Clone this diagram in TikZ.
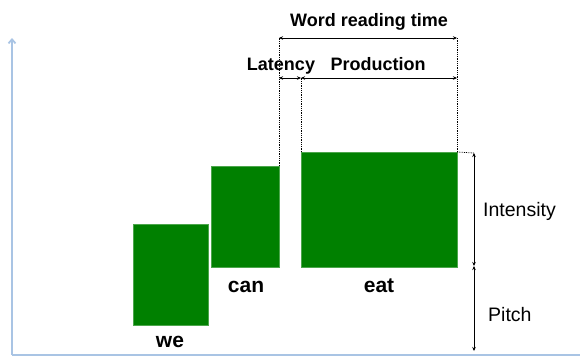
\documentclass[tikz,border=0pt]{standalone}
\usepackage{fontspec}
\setmainfont{Liberation Sans}
\usetikzlibrary{arrows.meta}
\definecolor{bargreen}{HTML}{008000}
\definecolor{axisblue}{HTML}{A9C4E4}
\begin{document}
\begin{tikzpicture}[x=1pt,y=-1pt,
  bar/.style={fill=bargreen,draw=bargreen!70!white,line width=0.6pt,inner sep=0pt,outer sep=0pt,anchor=north west},
  wordlbl/.style={font=\fontsize{21}{24}\selectfont\bfseries,anchor=base,inner sep=0pt},
  toplbl/.style={font=\fontsize{18}{21}\selectfont\bfseries,anchor=base,inner sep=0pt},
  sidelbl/.style={font=\fontsize{19.5}{22}\selectfont,anchor=base west,inner sep=0pt},
  dim/.style={line width=0.8pt,{Stealth[length=4pt,width=3.5pt]}-{Stealth[length=4pt,width=3.5pt]}},
  guide/.style={line width=0.8pt,densely dotted},
  axis/.style={draw=axisblue,line width=1.8pt}]
\useasboundingbox (0,0) rectangle (580,357);
% axes
\coordinate (o) at (12,355);
\coordinate (ytop) at (12,38);
\coordinate (xend) at (580,355);
\draw[axis,-{Straight Barb[length=4pt,width=7pt]}] (o) -- (ytop);
\draw[axis] (o) -- (xend);
% bars
\node[bar,minimum width=75pt,minimum height=101pt] (we) at (133,224) {};
\node[bar,minimum width=68pt,minimum height=101pt] (can) at (211,166) {};
\node[bar,minimum width=156pt,minimum height=115pt] (eat) at (301,152) {};
% word labels
\node[wordlbl] (lwe) at (170,347) {we};
\node[wordlbl] (lcan) at (246,292) {can};
\node[wordlbl] (leat) at (379,292) {eat};
% guide coordinates
\coordinate (g1) at (279,38);
\coordinate (g2) at (301,78);
\coordinate (g3) at (457,38);
\coordinate (g1b) at (279,78);
\coordinate (g3b) at (457,78);
\coordinate (r1) at (474,153);
\coordinate (r2) at (474,266);
\coordinate (r3) at (474,351);
% dotted guides
\draw[guide] (can.north east) -- (g1);
\draw[guide] (eat.north west) -- (g2);
\draw[guide] (eat.north east) -- (g3);
\draw[guide] (eat.north east) -- (r1);
% dimension arrows
\draw[dim] (g1) -- (g3);
\draw[dim] (g1b) -- (g2);
\draw[dim] (g2) -- (g3b);
\draw[dim] (r1) -- (r2);
\draw[dim] (r2) -- (r3);
% labels
\node[toplbl] (lwrt) at (369,26) {Word reading time};
\node[toplbl] (llat) at (281,70) {Latency};
\node[toplbl] (lprod) at (378,70) {Production};
\node[sidelbl] (lint) at (483,216) {Intensity};
\node[sidelbl] (lpitch) at (488,321) {Pitch};
\end{tikzpicture}
\end{document}
